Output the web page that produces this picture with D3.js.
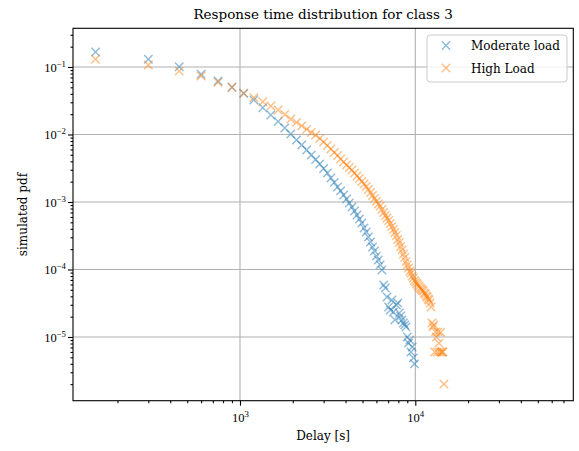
<!DOCTYPE html>
<html>
<head>
<meta charset="utf-8">
<script src="https://cdn.jsdelivr.net/npm/d3@7"></script>
<style>
  body { margin: 0; background: #fff; }
  svg { display: block; font-family: "DejaVu Serif", "Liberation Serif", serif; }
  .tickfont { font-family: "Liberation Serif", "DejaVu Serif", serif; }
</style>
</head>
<body>
<svg id="chart" width="579" height="451"></svg>
<script>
// ---- data ----
const delays = [150,300,450,600,750,900,1050,1200,1350,1500,1650,1800,1950,2100,2250,2400,2550,2700,2850,3000,
  3150,3300,3450,3600,3750,3900,4050,4200,4350,4500,4650,4800,4950,5100,5250,5400,5550,5700,5850,6000,
  6150,6300,6450,6600,6750,6900,7050,7200,7350,7500,7650,7800,7950,8100,8250,8400,8550,8700,8850,9000,
  9150,9300,9450,9600,9750,9900,10050,10200,10350,10500,10650,10800,10950,11100,11250,11400,11550,11700,11850,12000,
  12150,12300,12450,12600,12750,12900,13050,13200,13350,13500,13650,13800,13950,14100,14250,14400,14550];

const moderateLoad = [0.167,0.130,0.101,0.078,0.062,0.050,0.0407,0.0325,0.0249,0.01945,
  0.0156,0.01248,0.01017,0.0083,0.00699,0.00589,0.00497,0.00426,0.00366,0.00313,
  0.00269,0.00227,0.00195,0.00167,0.00146,0.00127,0.00111,0.000966,0.000843,0.000736,
  0.000642,0.000560,0.000489,0.000412,0.000360,0.000303,0.000255,0.000215,0.000188,0.000158,
  0.000138,0.000117,0.0000984,0.0000589,0.0000532,0.0000392,0.0000278,0.0000251,0.0000353,0.0000234,
  0.0000179,0.0000298,0.0000319,0.0000227,0.0000205,0.0000179,0.0000161,0.0000151,0.0000141,0.0000100,
  0.0000081,0.0000090,0.0000060,0.0000071,0.0000049,0.0000040];

const highLoad = [0.130,0.107,0.087,0.0736,0.0593,0.050,0.0408,0.0351,0.0306,0.0264,
  0.0231,0.0198,0.0170,0.0151,0.0134,0.0119,0.0107,0.00984,0.00873,0.00774,
  0.00687,0.00610,0.00541,0.00489,0.00434,0.00392,0.00353,0.00324,0.00298,0.00269,
  0.00243,0.00223,0.00201,0.00185,0.00170,0.00153,0.00138,0.00125,0.00113,0.00102,
  0.000933,0.000872,0.000774,0.000699,0.000631,0.000579,0.000532,0.000480,0.000433,0.000391,
  0.000353,0.000319,0.000278,0.000251,0.000219,0.000195,0.000170,0.000151,0.000131,0.000117,
  0.000105,0.0000950,0.0000888,0.0000801,0.0000748,0.0000687,0.0000653,0.0000621,0.0000589,0.0000560,
  0.0000532,0.0000514,0.0000497,0.0000480,0.0000449,0.0000434,0.0000405,0.0000392,0.0000366,0.0000353,
  0.0000319,0.0000278,0.0000161,0.0000141,0.0000151,0.0000060,0.0000119,0.0000100,0.0000060,0.0000119,
  0.0000081,0.0000060,0.0000117,0.0000060,0.0000060,0.0000060,0.0000020];

const seriesNames = ["Moderate load", "High Load"];
const seriesColors = ["#1f77b4", "#ff7f0e"];
const xMajorTicks = [1e3, 1e4];
const xMajorExp = ["3", "4"];
const yMajorTicks = [1e-1, 1e-2, 1e-3, 1e-4, 1e-5];
const yMajorExp = ["−1", "−2", "−3", "−4", "−5"];
const titleText = "Response time distribution for class 3";
const xLabel = "Delay [s]";
const yLabel = "simulated pdf";

// ---- layout ----
const svg = d3.select("#chart");
const L = 73, R = 573.3, T = 28.3, B = 400.7;

const x = d3.scaleLog().domain([Math.pow(10, 2.0474), Math.pow(10, 4.9013)]).range([L, R]);
const y = d3.scaleLog().domain([Math.pow(10, -5.944), Math.pow(10, -0.4267)]).range([B, T]);

function minorTicks(scale) {
  const [a, b] = scale.domain();
  const out = [];
  for (let e = Math.floor(Math.log10(a)); e <= Math.ceil(Math.log10(b)); e++) {
    for (let m = 2; m <= 9; m++) {
      const v = m * Math.pow(10, e);
      if (v >= a && v <= b) out.push(v);
    }
  }
  return out;
}

// grid
const grid = svg.append("g");
grid.selectAll(".gx").data(xMajorTicks).join("line")
  .attr("x1", d => x(d)).attr("x2", d => x(d)).attr("y1", T).attr("y2", B)
  .attr("stroke", "#b0b0b0").attr("stroke-width", 1.1);
grid.selectAll(".gy").data(yMajorTicks).join("line")
  .attr("x1", L).attr("x2", R).attr("y1", d => y(d)).attr("y2", d => y(d))
  .attr("stroke", "#b0b0b0").attr("stroke-width", 1.1);

// markers
const r = 4.2;
const xPath = `M${-r},${-r}L${r},${r}M${-r},${r}L${r},${-r}`;
const series = [moderateLoad, highLoad];
series.forEach((vals, si) => {
  const pts = vals.map((v, i) => [delays[i], v]);
  svg.append("g").selectAll("path").data(pts).join("path")
    .attr("d", xPath)
    .attr("transform", d => `translate(${x(d[0])},${y(d[1])})`)
    .attr("fill", "none")
    .attr("stroke", seriesColors[si])
    .attr("stroke-width", 1.4)
    .attr("stroke-opacity", 0.5);
});

// axes
function styleAxis(g) {
  g.select(".domain").remove();
  g.selectAll(".tick line").attr("stroke", "#000").attr("stroke-width", 1.1);
}
const xAxisMajor = svg.append("g").attr("transform", `translate(0,${B})`)
  .call(d3.axisBottom(x).tickValues(xMajorTicks).tickSize(5).tickPadding(5).tickFormat(() => ""));
styleAxis(xAxisMajor);
svg.append("g").attr("transform", `translate(0,${B})`)
  .call(d3.axisBottom(x).tickValues(minorTicks(x)).tickSize(2.5).tickFormat(() => ""))
  .call(styleAxis);
const yAxisMajor = svg.append("g").attr("transform", `translate(${L},0)`)
  .call(d3.axisLeft(y).tickValues(yMajorTicks).tickSize(5).tickFormat(() => ""));
styleAxis(yAxisMajor);
svg.append("g").attr("transform", `translate(${L},0)`)
  .call(d3.axisLeft(y).tickValues(minorTicks(y)).tickSize(2.5).tickFormat(() => ""))
  .call(styleAxis);

// tick labels with superscripts
xAxisMajor.selectAll(".tick").each(function(d, i) {
  const t = d3.select(this).append("text").attr("class", "tickfont")
    .attr("y", 21).attr("text-anchor", "middle").attr("fill", "#000")
    .attr("font-size", 12.5);
  t.append("tspan").text("10");
  t.append("tspan").attr("dy", -5).attr("font-size", 8.8).text(xMajorExp[i]);
});
yAxisMajor.selectAll(".tick").each(function(d, i) {
  const t = d3.select(this).append("text").attr("class", "tickfont")
    .attr("x", -7).attr("y", 4.5).attr("text-anchor", "end").attr("fill", "#000")
    .attr("font-size", 12.5);
  t.append("tspan").text("10");
  t.append("tspan").attr("dy", -5).attr("font-size", 8.8).text(yMajorExp[i]);
});

// frame
svg.append("rect").attr("x", L).attr("y", T).attr("width", R - L).attr("height", B - T)
  .attr("fill", "none").attr("stroke", "#000").attr("stroke-width", 1.1);

// title and labels
svg.append("text").attr("x", (L + R) / 2).attr("y", 19).attr("text-anchor", "middle")
  .attr("font-size", 13.5).text(titleText);
svg.append("text").attr("x", (L + R) / 2).attr("y", 440).attr("text-anchor", "middle")
  .attr("font-size", 12).text(xLabel);
svg.append("text").attr("transform", `translate(27,${(T + B) / 2}) rotate(-90)`)
  .attr("text-anchor", "middle").attr("font-size", 12).text(yLabel);

// legend
const lg = svg.append("g");
lg.append("rect").attr("x", 427).attr("y", 35).attr("width", 140).attr("height", 47)
  .attr("rx", 3).attr("fill", "#fff").attr("fill-opacity", 0.8)
  .attr("stroke", "#cccccc").attr("stroke-width", 1);
seriesNames.forEach((name, i) => {
  const cy = 45.5 + i * 22.5;
  lg.append("path").attr("d", xPath).attr("transform", `translate(446,${cy})`)
    .attr("fill", "none").attr("stroke", seriesColors[i]).attr("stroke-width", 1.4)
    .attr("stroke-opacity", 0.5);
  lg.append("text").attr("x", 471).attr("y", cy + 4.5).attr("font-size", 12).text(name);
});
</script>
</body>
</html>
